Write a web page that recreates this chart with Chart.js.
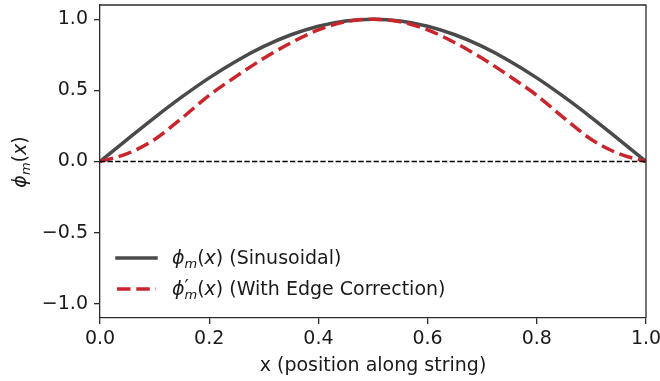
<!DOCTYPE html>
<html>
<head>
<meta charset="utf-8">
<script src="https://cdn.jsdelivr.net/npm/chart.js@4/dist/chart.umd.min.js"></script>
<style>
  html, body { margin: 0; padding: 0; background: #fff; }
  #wrap { width: 660px; height: 381px; }
</style>
</head>
<body>
<div id="wrap"><canvas id="modeChart" width="660" height="381"></canvas></div>
<script>
// values
const xPos = [0, 0.05, 0.1, 0.15, 0.2, 0.25, 0.3, 0.35, 0.4, 0.45, 0.5,
              0.55, 0.6, 0.65, 0.7, 0.75, 0.8, 0.85, 0.9, 0.95, 1];
const phiSin = [0, 0.156, 0.309, 0.454, 0.588, 0.707, 0.809, 0.891, 0.951, 0.988, 1.0,
                0.988, 0.951, 0.891, 0.809, 0.707, 0.588, 0.454, 0.309, 0.156, 0];
const phiEdge = [0, 0.055, 0.155, 0.305, 0.465, 0.6, 0.725, 0.835, 0.925, 0.982, 1.0,
                 0.982, 0.925, 0.835, 0.725, 0.6, 0.465, 0.305, 0.155, 0.055, 0];
const zeroX = [0, 1];
const zeroY = [0, 0];
const xTicks = [0, 0.2, 0.4, 0.6, 0.8, 1.0];
const yTicks = [-1.0, -0.5, 0.0, 0.5, 1.0];
const legendTexts = [' (Sinusoidal)', ' (With Edge Correction)'];
const xTitle = 'x (position along string)';

const FONT = '"DejaVu Sans", sans-serif';
const FS = 19;
const GREY = '#4a4a4a';
const RED = '#c8262c';
const AXIS = '#2b2b2b';

const pts = (xs, ys) => xs.map((x, i) => ({ x: x, y: ys[i] }));
const fmt = v => {
  const s = Math.abs(v) < 1e-9 ? '0.0' : v.toFixed(1);
  return s.replace('-', '\u2212');
};

// draws  ϕ_m(x)  or  ϕ'_m(x)  starting at x, baseline y; returns end x
function drawPhi(ctx, x, y, size, prime) {
  ctx.textBaseline = 'alphabetic';
  ctx.textAlign = 'left';
  ctx.font = 'italic ' + size + 'px ' + FONT;
  ctx.fillText('\u03d5', x, y);
  let cx = x + ctx.measureText('\u03d5').width;
  const sub = Math.round(size * 0.7);
  if (prime) {
    ctx.font = size + 'px ' + FONT;
    ctx.fillText('\u2032', cx, y - size * 0.08);
  }
  ctx.font = 'italic ' + sub + 'px ' + FONT;
  ctx.fillText('m', cx, y + size * 0.2);
  cx += ctx.measureText('m').width;
  ctx.font = size + 'px ' + FONT;
  ctx.fillText('(', cx, y);
  cx += ctx.measureText('(').width;
  ctx.font = 'italic ' + size + 'px ' + FONT;
  ctx.fillText('x', cx, y);
  cx += ctx.measureText('x').width;
  ctx.font = size + 'px ' + FONT;
  ctx.fillText(')', cx, y);
  cx += ctx.measureText(')').width;
  return cx;
}

function phiWidth(ctx, size) {
  const sub = Math.round(size * 0.7);
  let w = 0;
  ctx.font = 'italic ' + size + 'px ' + FONT;
  w += ctx.measureText('\u03d5').width + ctx.measureText('x').width;
  ctx.font = 'italic ' + sub + 'px ' + FONT;
  w += ctx.measureText('m').width;
  ctx.font = size + 'px ' + FONT;
  w += ctx.measureText('()').width;
  return w;
}

const decorPlugin = {
  id: 'decor',
  afterDatasetsDraw(chart) {
    const ctx = chart.ctx;
    const a = chart.chartArea;
    ctx.save();
    ctx.strokeStyle = AXIS;
    ctx.lineWidth = 1.3;
    ctx.beginPath();
    ctx.moveTo(a.left, a.top);
    ctx.lineTo(a.right, a.top);
    ctx.lineTo(a.right, a.bottom);
    ctx.stroke();
    ctx.restore();
  },
  afterDraw(chart) {
    const ctx = chart.ctx;
    ctx.save();
    ctx.fillStyle = '#1a1a1a';

    // y axis label, rotated
    ctx.save();
    ctx.translate(26, 162);
    ctx.rotate(-Math.PI / 2);
    const w = phiWidth(ctx, FS);
    drawPhi(ctx, -w / 2, 0, FS, false);
    ctx.restore();

    // legend
    const rows = [
      { y: 258, color: GREY, dash: [], prime: false },
      { y: 289, color: RED, dash: [13.5, 5.8], prime: true }
    ];
    rows.forEach((r, i) => {
      ctx.save();
      ctx.strokeStyle = r.color;
      ctx.lineWidth = 3.5;
      ctx.setLineDash(r.dash);
      ctx.lineCap = r.dash.length ? 'butt' : 'square';
      ctx.beginPath();
      ctx.moveTo(117, r.y);
      ctx.lineTo(156, r.y);
      ctx.stroke();
      ctx.restore();
      ctx.fillStyle = '#1a1a1a';
      const endX = drawPhi(ctx, 172, r.y + 6, FS, r.prime);
      ctx.font = FS + 'px ' + FONT;
      ctx.fillText(legendTexts[i], endX, r.y + 6);
    });
    ctx.restore();
  }
};

const noPad = s => { s.paddingTop = 0; s.paddingBottom = 0; s.paddingLeft = 0; s.paddingRight = 0; };

const axisCommon = {
  type: 'linear',
  grid: { drawOnChartArea: false, drawTicks: true, tickLength: 6, color: AXIS, tickColor: AXIS, lineWidth: 1.3 },
  border: { display: true, color: AXIS, width: 1.3 },
};

new Chart(document.getElementById('modeChart'), {
  type: 'scatter',
  data: {
    datasets: [
      { label: 'zero', data: pts(zeroX, zeroY), showLine: true, borderColor: '#000', borderWidth: 1.4,
        borderDash: [5.3, 2.3], pointRadius: 0, order: 0 },
      { label: 'edge', data: pts(xPos, phiEdge), showLine: true, borderColor: RED, borderWidth: 3.5,
        borderDash: [13.5, 5.8], pointRadius: 0, cubicInterpolationMode: 'monotone', order: 1 },
      { label: 'sin', data: pts(xPos, phiSin), showLine: true, borderColor: GREY, borderWidth: 3.5,
        pointRadius: 0, cubicInterpolationMode: 'monotone', order: 2 }
    ]
  },
  options: {
    responsive: false,
    animation: false,
    devicePixelRatio: 1,
    layout: { padding: { top: 5, right: 14, left: 0, bottom: 0 } },
    plugins: { legend: { display: false }, tooltip: { enabled: false } },
    scales: {
      x: Object.assign({}, axisCommon, {
        min: 0, max: 1,
        afterBuildTicks: s => { s.ticks = xTicks.map(v => ({ value: v })); },
        afterFit: s => { s.height = 63; noPad(s); },
        ticks: { color: '#1a1a1a', font: { family: FONT, size: FS }, padding: 4, maxRotation: 0,
                 autoSkip: false, callback: v => fmt(v) },
        title: { display: true, text: xTitle, color: '#1a1a1a', font: { family: FONT, size: FS },
                 padding: { top: 0, bottom: 4 } }
      }),
      y: Object.assign({}, axisCommon, {
        min: -1.1, max: 1.1,
        afterBuildTicks: s => { s.ticks = yTicks.map(v => ({ value: v })); },
        afterFit: s => { s.width = 100; noPad(s); },
        ticks: { color: '#1a1a1a', font: { family: FONT, size: FS }, padding: 6,
                 autoSkip: false, callback: v => fmt(v) }
      })
    }
  },
  plugins: [decorPlugin]
});
</script>
</body>
</html>
